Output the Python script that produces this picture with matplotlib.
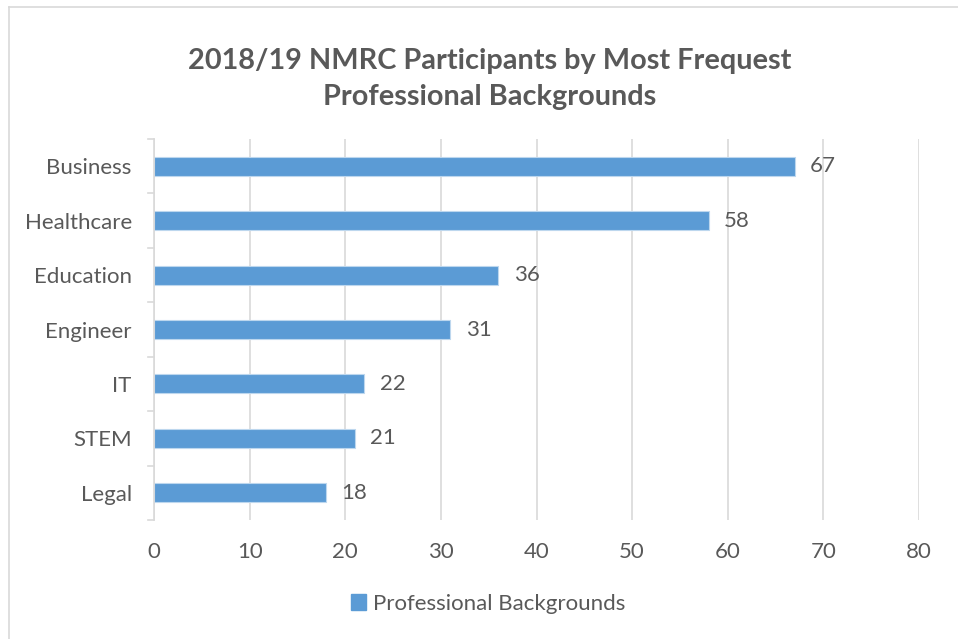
import matplotlib
matplotlib.use("Agg")
import matplotlib.pyplot as plt
from matplotlib.lines import Line2D
from matplotlib.patches import Patch

categories = ["Business", "Healthcare", "Education", "Engineer", "IT", "STEM", "Legal"]
values = [67, 58, 36, 31, 22, 21, 18]
xticks = [0, 10, 20, 30, 40, 50, 60, 70, 80]
series_name = "Professional Backgrounds"
title = "2018/19 NMRC Participants by Most Frequest\nProfessional Backgrounds"

plt.rcParams['font.family'] = ['Lato', 'DejaVu Sans']
TXT = "#595959"
GRID = "#D9D9D9"
BAR = "#5B9BD5"

W, H = 958, 639
fig = plt.figure(figsize=(W / 100, H / 100), dpi=100)
x0, x1 = 154, 919
y0, y1 = 139, 520
ax = fig.add_axes([x0 / W, 1 - y1 / H, (x1 - x0) / W, (y1 - y0) / H])

n = len(categories)
ypos = list(range(n))
ax.barh(ypos, values, height=0.35, color=BAR, edgecolor="#BDD7EE", linewidth=0.8, zorder=3)
ax.set_ylim(n - 0.5, -0.5)
ax.set_xlim(0, 80)
ax.set_xticks(xticks)
ax.set_xticklabels([str(t) for t in xticks], fontsize=16, color=TXT)
ax.set_yticks(ypos)
ax.set_yticklabels(categories, fontsize=16, color=TXT)
ax.tick_params(axis='x', length=0, pad=16)
ax.tick_params(axis='y', length=0, pad=16)
ax.grid(axis='x', color=GRID, linewidth=1.2, zorder=0)
for s in ["top", "right", "bottom"]:
    ax.spines[s].set_visible(False)
ax.spines["left"].set_color(GRID)
ax.spines["left"].set_linewidth(1.2)
ax.spines["left"].set_zorder(4)
# category boundary tick marks
for b in [i - 0.5 for i in range(n + 1)]:
    ax.plot([-0.6, 0], [b, b], color=GRID, linewidth=1.2, clip_on=False, zorder=4)

for yi, v in zip(ypos, values):
    ax.annotate(str(v), (v, yi), xytext=(11, 0), textcoords="offset points",
                va="center", ha="left", fontsize=16, color=TXT)

fig.text(490 / W, 1 - 79 / H, title, ha="center", va="center", fontsize=20.8,
         fontweight="bold", color=TXT, linespacing=1.45)

handles = [Patch(facecolor=BAR, edgecolor=BAR, label=series_name)]
fig.legend(handles=handles, loc="center", bbox_to_anchor=(488 / W, 1 - 604 / H),
           frameon=False, fontsize=16, labelcolor=TXT, handlelength=0.7,
           handleheight=0.7, handletextpad=0.3)

# outer frame (top and left edges visible)
fig.add_artist(Line2D([9 / W, 1], [1 - 7 / H, 1 - 7 / H], color=GRID, linewidth=1.2,
                      transform=fig.transFigure))
fig.add_artist(Line2D([9 / W, 9 / W], [0, 1 - 7 / H], color=GRID, linewidth=1.2,
                      transform=fig.transFigure))

fig.savefig("out.png", dpi=100, facecolor="white")
